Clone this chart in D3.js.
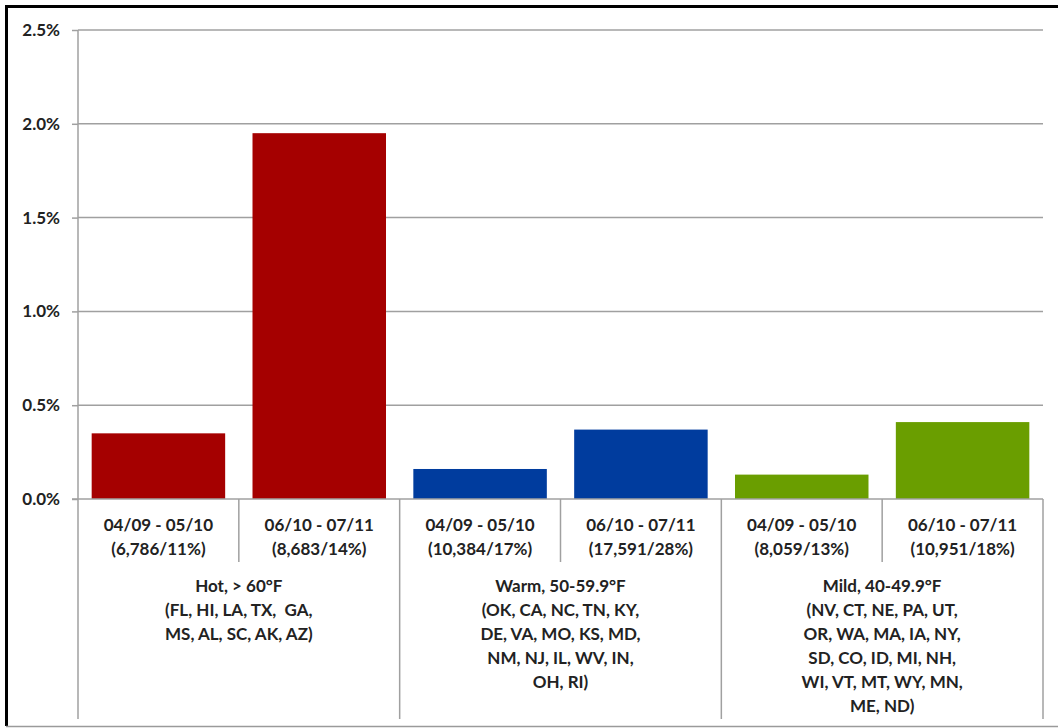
<!DOCTYPE html>
<html>
<head>
<meta charset="utf-8">
<script src="https://cdn.jsdelivr.net/npm/d3@7"></script>
<style>
  html, body { margin: 0; padding: 0; background: #fff; }
  svg { display: block; }
  text { font-family: Lato, "Open Sans", sans-serif; font-weight: bold; fill: #222; }
</style>
</head>
<body>
<svg id="chart" width="1058" height="728"></svg>
<script>
// ---- data ----
const periods = ["04/09 - 05/10", "06/10 - 07/11", "04/09 - 05/10", "06/10 - 07/11", "04/09 - 05/10", "06/10 - 07/11"];
const counts = ["(6,786/11%)", "(8,683/14%)", "(10,384/17%)", "(17,591/28%)", "(8,059/13%)", "(10,951/18%)"];
const values = [0.35, 1.95, 0.16, 0.37, 0.13, 0.41];
const groupOfBar = [0, 0, 1, 1, 2, 2];
const groupColors = ["#A50000", "#003C9E", "#6A9E00"];
const groupLabels = [
  ["Hot, > 60°F", "(FL, HI, LA, TX,  GA,", "MS, AL, SC, AK, AZ)"],
  ["Warm, 50-59.9°F", "(OK, CA, NC, TN, KY,", "DE, VA, MO, KS, MD,", "NM, NJ, IL, WV, IN,", "OH, RI)"],
  ["Mild, 40-49.9°F", "(NV, CT, NE, PA, UT,", "OR, WA, MA, IA, NY,", "SD, CO, ID, MI, NH,", "WI, VT, MT, WY, MN,", "ME, ND)"]
];
const yTicks = [0, 0.5, 1.0, 1.5, 2.0, 2.5];

// ---- layout ----
const svg = d3.select("#chart");
const pLeft = 78, pRight = 1043, pTop = 30, zeroY = 499, pBottom = 719;

const x = d3.scaleBand().domain(d3.range(values.length)).range([pLeft, pRight])
  .paddingInner(0.17).paddingOuter(0.085);
const xg = d3.scaleBand().domain(d3.range(groupLabels.length)).range([pLeft, pRight]);
const y = d3.scaleLinear().domain([0, 2.5]).range([zeroY, pTop]);

// outer frame (left/top black, bottom gray)
svg.append("path").attr("d", "M6.5,726 V6.5 H1058").attr("fill", "none")
  .attr("stroke", "#000").attr("stroke-width", 3);
svg.append("line").attr("x1", 6).attr("x2", 1058).attr("y1", 726.5).attr("y2", 726.5)
  .attr("stroke", "#9a9a9a").attr("stroke-width", 1.5);

// gridlines + y axis
const yAxis = d3.axisLeft(y).tickValues(yTicks).tickSize(6)
  .tickFormat(d => d.toFixed(1) + "%");
const ya = svg.append("g").attr("transform", `translate(${pLeft},0)`).call(yAxis);
ya.select(".domain").remove();
ya.selectAll(".tick line").attr("stroke", "#a0a0a0").attr("stroke-width", 1.5);
ya.selectAll(".tick text").attr("x", -18).attr("font-size", 17)
  .style("font-family", "Lato, sans-serif").style("font-weight", "bold").attr("fill", "#222");

svg.append("g").selectAll("line").data(yTicks.filter(d => d > 0)).join("line")
  .attr("x1", pLeft).attr("x2", pRight)
  .attr("y1", d => y(d)).attr("y2", d => y(d))
  .attr("stroke", "#a0a0a0").attr("stroke-width", 1.5);

// bars
svg.append("g").selectAll("rect").data(values).join("rect")
  .attr("x", (d, i) => x(i)).attr("width", x.bandwidth())
  .attr("y", d => y(d)).attr("height", d => zeroY - y(d))
  .attr("fill", (d, i) => groupColors[groupOfBar[i]]);

// vertical axis line
svg.append("line").attr("x1", pLeft).attr("x2", pLeft).attr("y1", pTop).attr("y2", pBottom)
  .attr("stroke", "#a0a0a0").attr("stroke-width", 1.5);
// x axis baseline
svg.append("line").attr("x1", pLeft - 6).attr("x2", pRight).attr("y1", zeroY).attr("y2", zeroY)
  .attr("stroke", "#a0a0a0").attr("stroke-width", 1.5);

// category separators
const step = x.step();
const innerSeps = d3.range(values.length).filter(i => i % 2 === 1).map(i => x(i) - x.paddingInner() * step / 2);
svg.append("g").selectAll("line").data(innerSeps).join("line")
  .attr("x1", d => d).attr("x2", d => d).attr("y1", zeroY).attr("y2", 562)
  .attr("stroke", "#a0a0a0").attr("stroke-width", 1.5);
const groupSeps = d3.range(1, groupLabels.length + 1).map(g => g < groupLabels.length ? xg(g) : pRight);
svg.append("g").selectAll("line").data(groupSeps).join("line")
  .attr("x1", d => d).attr("x2", d => d).attr("y1", zeroY).attr("y2", pBottom)
  .attr("stroke", "#a0a0a0").attr("stroke-width", 1.5);

// category labels
const catG = svg.append("g").attr("font-size", 17).attr("text-anchor", "middle");
catG.selectAll("text.p").data(periods).join("text").attr("class", "p")
  .attr("x", (d, i) => x(i) + x.bandwidth() / 2).attr("y", 531).text(d => d);
catG.selectAll("text.c").data(counts).join("text").attr("class", "c")
  .attr("x", (d, i) => x(i) + x.bandwidth() / 2).attr("y", 555).text(d => d);

// group labels
const gG = svg.append("g").attr("font-size", 17).attr("text-anchor", "middle");
groupLabels.forEach((lines, g) => {
  gG.append("text").attr("x", xg(g) + xg.bandwidth() / 2).attr("y", 592)
    .style("white-space", "pre")
    .selectAll("tspan").data(lines).join("tspan")
    .attr("x", xg(g) + xg.bandwidth() / 2).attr("dy", (d, i) => i === 0 ? 0 : 24)
    .text(d => d);
});
</script>
</body>
</html>
